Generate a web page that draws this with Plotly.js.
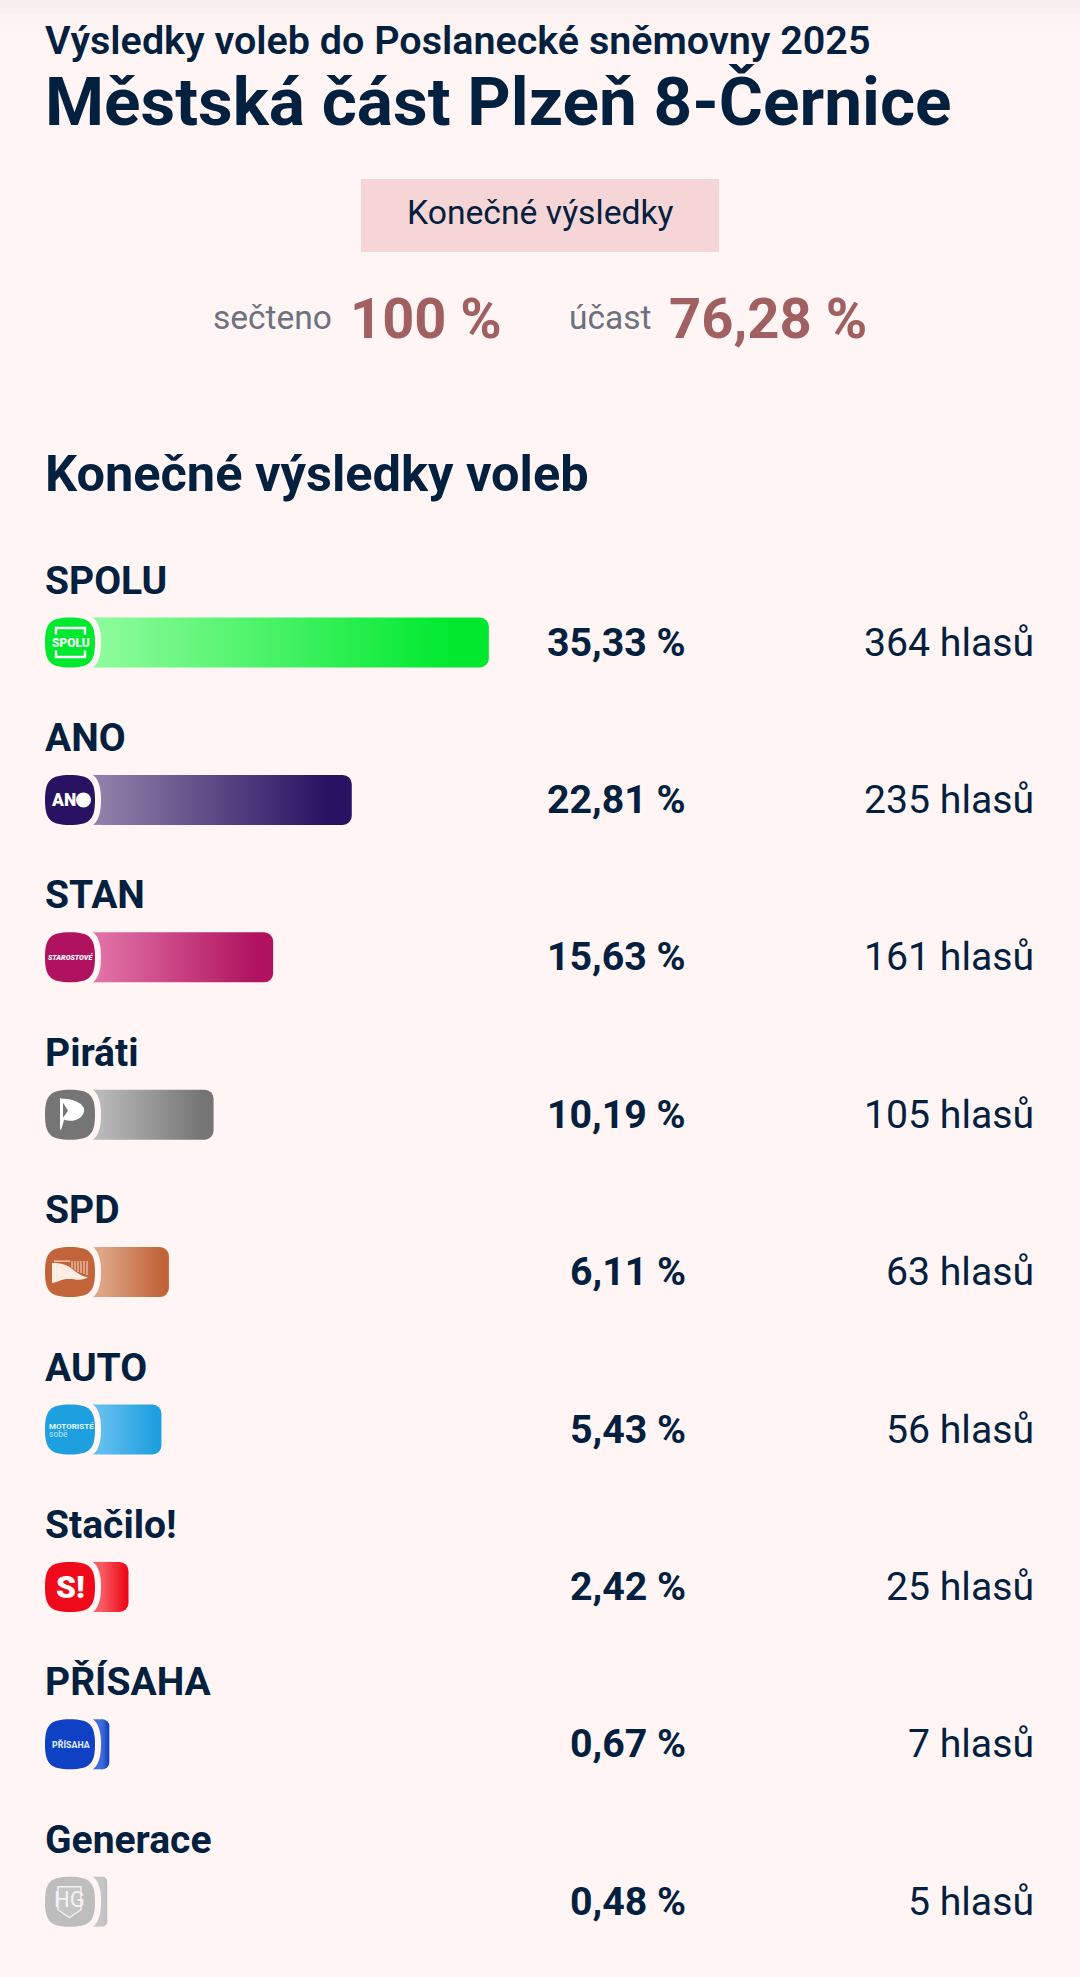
<!DOCTYPE html>
<html lang="cs"><head><meta charset="utf-8">
<script src="https://cdn.plot.ly/plotly-3.0.1.min.js"></script>
<style>html,body{margin:0;padding:0;background:#FFF5F4}#c{width:1080px;height:1977px}</style>
</head><body><div id="c"></div>
<script>
const parties = ['SPOLU','ANO','STAN','Piráti','SPD','AUTO','Stačilo!','PŘÍSAHA','Generace'];
const percents = [35.33,22.81,15.63,10.19,6.11,5.43,2.42,0.67,0.48];
const votes = [364,235,161,105,63,56,25,7,5];
const barEndColors = ['#00E92F','#2A1263','#B0125F','#757575','#C2643A','#1E9FE0','#EE0A1A','#0E41C3','#BDBDBD'];
const barStartColors = ['#8CFB9A','#8E80A8','#E070A5','#B8B8B8','#DDA585','#62BEEE','#F85A60','#3F6AD8','#C6C6C6'];

const W = 1080, H = 1977;
const BG = '#FFF5F4', INK = '#04203F', RED = '#A05F60', GREY = '#6C7280';
const FONT = 'Roboto, sans-serif';
const X0 = 102, PXPER = 10.95, ROW0 = 642.5, PITCH = 157.4, BARH = 50;

const px = v => v / W, py = v => 1 - v / H;
const rowY = i => ROW0 + PITCH * i;

function text(x, y, t, size, o = {}) {
  return {xref:'paper', yref:'paper', x:px(x), y:py(y), text:t, showarrow:false,
    xanchor:o.anchor||'left', yanchor:'middle', align:o.anchor||'left',
    font:{family:o.family||FONT, size, color:o.color||INK, weight:o.weight||400, style:o.style||'normal'},
    borderpad:0, bgcolor:'rgba(0,0,0,0)'};
}
function squircle(l, t, r, b, k) {
  const cx=(l+r)/2, cy=(t+b)/2, hx=(r-l)/2*k, hy=(b-t)/2*k;
  const P=(x,y)=>px(x)+','+py(y);
  return `M${P(cx,t)} C${P(cx+hx,t)} ${P(r,cy-hy)} ${P(r,cy)} C${P(r,cy+hy)} ${P(cx+hx,b)} ${P(cx,b)} C${P(cx-hx,b)} ${P(l,cy+hy)} ${P(l,cy)} C${P(l,cy-hy)} ${P(cx-hx,t)} ${P(cx,t)} Z`;
}
function poly(pts, close = true) {
  return 'M' + pts.map(p => px(p[0]) + ',' + py(p[1])).join(' L') + (close ? ' Z' : '');
}
const pshape = (path, fill, line, w) => ({type:'path', xref:'paper', yref:'paper', path, layer:'above',
  fillcolor:fill||'rgba(0,0,0,0)', line:{color:line||'rgba(0,0,0,0)', width:w||0}});

const annotations = [
  text(43.5, 40, 'Výsledky voleb do Poslanecké sněmovny 2025', 39.5, {weight:600}),
  text(43.5, 102, 'Městská část Plzeň 8-Černice', 67.5, {weight:700}),
  text(540, 213, 'Konečné výsledky', 33.7, {anchor:'center'}),
  text(212, 317, 'sečteno', 33.5, {color:GREY}),
  text(349, 319, '100 %', 56, {color:RED, weight:700}),
  text(568, 317, 'účast', 33.5, {color:GREY}),
  text(668, 319, '76,28 %', 56.2, {color:RED, weight:700}),
  text(43.5, 474, 'Konečné výsledky voleb', 50.5, {weight:700}),
];
parties.forEach((p, i) => {
  const y = rowY(i);
  annotations.push(text(43.5, y - 62, p, 39, {weight:700}));
  annotations.push(text(687, y, percents[i].toFixed(2).replace('.', ',') + ' %', 39.3, {anchor:'right', weight:700}));
  annotations.push(text(1035, y, votes[i] + ' hlasů', 39.2, {anchor:'right'}));
});

const shapes = [
  {type:'rect', xref:'paper', yref:'paper', x0:px(361), x1:px(719), y0:py(179), y1:py(252), fillcolor:'#F5D5D5', line:{width:0}, layer:'below'},
];
[[0,7,.045],[7,14,.032],[14,22,.02],[22,32,.01]].forEach(b => shapes.push(
  {type:'rect', xref:'paper', yref:'paper', x0:0, x1:1, y0:py(b[0]), y1:py(b[1]), fillcolor:`rgba(90,90,90,${b[2]})`, line:{width:0}, layer:'below'}));
parties.forEach((p, i) => {
  const y = rowY(i);
  shapes.push({type:'rect', xref:'paper', yref:'paper', x0:px(88), x1:px(X0+1), y0:py(y-BARH/2), y1:py(y+BARH/2),
    fillcolor:barStartColors[i], line:{width:0}, layer:'below'});
  shapes.push(pshape(squircle(39, y-31, 101, y+31, 0.74), BG));
  shapes.push(pshape(squircle(45, y-25, 95, y+25, 0.78), barEndColors[i]));
});

// logo glyphs
const c = i => rowY(i), CX = 70.5;
const W1 = '#FFFFFF';
// SPOLU brackets
shapes.push(pshape(poly([[56,c(0)-8],[56,c(0)-14.5],[85,c(0)-14.5],[85,c(0)-8]],false),null,W1,2.4));
shapes.push(pshape(poly([[56,c(0)+8],[56,c(0)+14.5],[85,c(0)+14.5],[85,c(0)+8]],false),null,W1,2.4));
annotations.push(text(CX, c(0), 'SPOLU', 12, {anchor:'center', color:W1, weight:800}));
// ANO
annotations.push(text(50, c(1), 'AN', 17.5, {color:W1, weight:900}));
shapes.push({type:'circle', xref:'paper', yref:'paper', x0:px(76), x1:px(91), y0:py(c(1)-7.5), y1:py(c(1)+7.5), fillcolor:W1, line:{width:0}, layer:'above'});
// STAN
annotations.push(text(CX, c(2), 'STAROSTOVÉ', 7.2, {anchor:'center', color:W1, weight:900, style:'italic'}));
// Piráti
const Pt = c(3);
const rel = (x, d) => px(x) + ',' + py(Pt + d);
shapes.push(pshape(`M${rel(60,-17)} L${rel(62,-16)} C${rel(75,-16)} ${rel(86,-10)} ${rel(84,-3)} C${rel(82,5)} ${rel(72,8)} ${rel(64,5)} C${rel(63,9)} ${rel(62,12)} ${rel(61,15)} L${rel(60,15)} Z`, W1));
shapes.push(pshape(`M${rel(63,-12)} L${rel(68,-4)} L${rel(63,3)} Z`, barEndColors[3]));
// SPD wave
const Sd = c(4);
shapes.push(pshape(`M${px(52)},${py(Sd-9)} C${px(62)},${py(Sd-10)} ${px(70)},${py(Sd-6)} ${px(76)},${py(Sd)} C${px(80)},${py(Sd+3)} ${px(85)},${py(Sd+5)} ${px(88)},${py(Sd+5)} C${px(82)},${py(Sd+10)} ${px(72)},${py(Sd+6)} ${px(66)},${py(Sd+7)} C${px(60)},${py(Sd+8)} ${px(55)},${py(Sd+11)} ${px(52)},${py(Sd+11)} Z`, '#FBEDE4'));
shapes.push(pshape(`M${px(54)},${py(Sd-11)} L${px(70)},${py(Sd-11)} M${px(72)},${py(Sd-11)} L${px(72)},${py(Sd-4)} M${px(75)},${py(Sd-11)} L${px(75)},${py(Sd-2)} M${px(78)},${py(Sd-11)} L${px(78)},${py(Sd)} M${px(81)},${py(Sd-11)} L${px(81)},${py(Sd+1)} M${px(84)},${py(Sd-11)} L${px(84)},${py(Sd+2)} M${px(87)},${py(Sd-11)} L${px(87)},${py(Sd+3)}`, null, '#F4D9C8', 1.1));
// AUTO
annotations.push(text(47.5, c(5)-3, 'MOTORISTÉ', 8, {color:'#DDF2FF', weight:800}));
annotations.push(text(47.5, c(5)+4.5, 'sobě', 8.5, {color:'#BFE5FB'}));
// Stačilo
annotations.push(text(CX, c(6), 'S!', 32, {anchor:'center', color:W1, weight:900}));
// PŘÍSAHA
annotations.push(text(CX, c(7), 'PŘÍSAHA', 8.8, {anchor:'center', color:'#DCE7FF', weight:800}));
// Generace shield
const G = c(8);
shapes.push(pshape(poly([[58,G-15],[81,G-15],[81,G+8],[69.5,G+16],[58,G+8]]), 'rgba(255,255,255,0.12)', '#F2F2F2', 1.4));
annotations.push(text(69.5, G-2, 'HG', 22, {anchor:'center', color:'#F2F2F2', weight:400, family:'"Liberation Sans Narrow", Roboto, sans-serif'}));

const trace = {
  type:'bar', orientation:'h', y:parties, x:percents,
  marker:{color:barEndColors, line:{width:0}},
  width:BARH/PITCH, hoverinfo:'skip'
};
const layout = {
  width:W, height:H, margin:{l:0,r:0,t:0,b:0}, showlegend:false,
  paper_bgcolor:BG, plot_bgcolor:BG, barcornerradius:9,
  font:{family:FONT},
  xaxis:{range:[-X0/PXPER,(W-X0)/PXPER], visible:false, fixedrange:true},
  yaxis:{type:'category', categoryorder:'array', categoryarray:parties,
         range:[(H-ROW0)/PITCH, -ROW0/PITCH], visible:false, fixedrange:true},
  annotations, shapes
};
Plotly.newPlot('c', [trace], layout, {displayModeBar:false, staticPlot:true}).then(gd => {
  const svg = gd.querySelector('svg.main-svg');
  const NS = 'http://www.w3.org/2000/svg';
  const defs = svg.querySelector('defs') || svg.insertBefore(document.createElementNS(NS,'defs'), svg.firstChild);
  gd.querySelectorAll('.barlayer .point path').forEach((path, i) => {
    const g = document.createElementNS(NS, 'linearGradient');
    g.id = 'bargrad' + i;
    [[0, barStartColors[i]], [0.9, barEndColors[i]], [1, barEndColors[i]]].forEach(s => {
      const st = document.createElementNS(NS, 'stop');
      st.setAttribute('offset', s[0]); st.setAttribute('stop-color', s[1]);
      g.appendChild(st);
    });
    defs.appendChild(g);
    path.style.fill = 'url(#bargrad' + i + ')';
  });
});
</script></body></html>
